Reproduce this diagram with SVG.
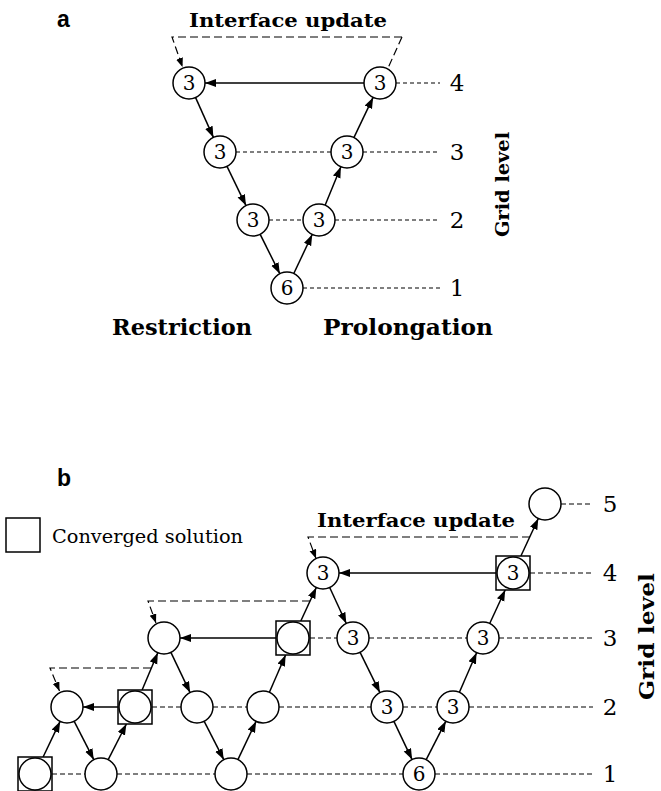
<svg xmlns="http://www.w3.org/2000/svg" width="661" height="791" viewBox="0 0 661 791">
<defs>
<marker id="ah" markerUnits="userSpaceOnUse" markerWidth="12" markerHeight="9" refX="11" refY="4" orient="auto"><path d="M0,0 L11,4 L0,8 z" fill="#000"/></marker>
<marker id="ahs" markerUnits="userSpaceOnUse" markerWidth="10" markerHeight="8" refX="9" refY="3.5" orient="auto"><path d="M0,0 L9,3.5 L0,7 z" fill="#000"/></marker>
</defs>
<style>
.n{fill:#fff;stroke:#000;stroke-width:1.5}
.sq{fill:#fff;stroke:#000;stroke-width:1.5}
.d{font-family:"DejaVu Serif","Liberation Serif",serif;font-size:20px;text-anchor:middle}
.lv{font-family:"DejaVu Serif","Liberation Serif",serif;font-size:23px;text-anchor:middle}
.hd{font-family:"DejaVu Serif","Liberation Serif",serif;font-weight:bold}
.ab{font-family:"Liberation Sans",Arial,sans-serif;font-weight:bold;font-size:23px}
.a{stroke:#000;stroke-width:1.5;fill:none;marker-end:url(#ah)}
.lvl{stroke:#000;stroke-width:1.2;stroke-dasharray:4 3;fill:none}
.lvlb{stroke:#000;stroke-width:1.2;stroke-dasharray:5 3;fill:none}
.iu{stroke:#000;stroke-width:1.2;stroke-dasharray:8 4;fill:none}
</style>

<!-- ===== Panel a ===== -->
<text class="ab" x="57" y="27">a</text>
<text class="hd" x="189" y="27" font-size="18" textLength="198" lengthAdjust="spacingAndGlyphs">Interface update</text>
<text class="hd" x="112" y="335" font-size="22" textLength="140" lengthAdjust="spacingAndGlyphs">Restriction</text>
<text class="hd" x="323" y="335" font-size="22" textLength="170" lengthAdjust="spacingAndGlyphs">Prolongation</text>
<text class="hd" transform="translate(509,237) rotate(-90)" font-size="18" textLength="105" lengthAdjust="spacingAndGlyphs">Grid level</text>

<g id="a-levels">
<path class="lvl" d="M396,83 H440"/>
<path class="lvl" d="M236,152 H331 M363,152 H440"/>
<path class="lvl" d="M269,220 H303 M335,220 H440"/>
<path class="lvl" d="M303,288 H440"/>
<text class="lv" x="457" y="91">4</text>
<text class="lv" x="457" y="160">3</text>
<text class="lv" x="457" y="228">2</text>
<text class="lv" x="457" y="296">1</text>
</g>

<g id="a-connectors">
<path class="iu" d="M402,37 H172 L182.5,67" marker-end="url(#ahs)"/>
<path class="iu" d="M402,37 L388,68"/>
<line class="a" x1="195.6" y1="97.6" x2="213.4" y2="137.4"/>
<line class="a" x1="227" y1="166.4" x2="246" y2="205.6"/>
<line class="a" x1="260.2" y1="234.3" x2="279.8" y2="273.7"/>
<line class="a" x1="293.8" y1="273.5" x2="312.2" y2="234.5"/>
<line class="a" x1="325.1" y1="205.2" x2="340.9" y2="166.8"/>
<line class="a" x1="353.9" y1="137.6" x2="373.1" y2="97.4"/>
<line class="a" x1="364" y1="83" x2="205" y2="83"/>
</g>

<g id="a-n1"><circle class="n" cx="189" cy="83" r="16"/><text class="d" x="189" y="90">3</text></g>
<g id="a-n2"><circle class="n" cx="220" cy="152" r="16"/><text class="d" x="220" y="159">3</text></g>
<g id="a-n3"><circle class="n" cx="253" cy="220" r="16"/><text class="d" x="253" y="227">3</text></g>
<g id="a-n4"><circle class="n" cx="287" cy="288" r="16"/><text class="d" x="287" y="295">6</text></g>
<g id="a-n5"><circle class="n" cx="319" cy="220" r="16"/><text class="d" x="319" y="227">3</text></g>
<g id="a-n6"><circle class="n" cx="347" cy="152" r="16"/><text class="d" x="347" y="159">3</text></g>
<g id="a-n7"><circle class="n" cx="380" cy="83" r="16"/><text class="d" x="380" y="90">3</text></g>

<!-- ===== Panel b ===== -->
<text class="ab" x="57" y="486">b</text>
<g id="legend">
<rect class="sq" x="6" y="518" width="34" height="34"/>
<text font-family="DejaVu Serif, Liberation Serif, serif" font-size="18" x="52" y="543" textLength="191" lengthAdjust="spacingAndGlyphs">Converged solution</text>
</g>
<text class="hd" x="317" y="527" font-size="18" textLength="198" lengthAdjust="spacingAndGlyphs">Interface update</text>
<text class="hd" transform="translate(654,700) rotate(-90)" font-size="21" textLength="127" lengthAdjust="spacingAndGlyphs">Grid level</text>

<g id="b-levels">
<path class="lvlb" d="M561,504 H593"/>
<path class="lvlb" d="M530,573 H593"/>
<path class="lvlb" d="M310,638 H337 M369,638 H467 M499,638 H593"/>
<path class="lvlb" d="M152,707 H181 M213,707 H247 M279,707 H371 M403,707 H437 M469,707 H593"/>
<path class="lvlb" d="M52,774 H85 M117,774 H215 M247,774 H403 M435,774 H593"/>
<text class="lv" x="610" y="512">5</text>
<text class="lv" x="610" y="581">4</text>
<text class="lv" x="610" y="646">3</text>
<text class="lv" x="610" y="715">2</text>
<text class="lv" x="610" y="782">1</text>
</g>

<g id="b-connectors">
<path class="iu" d="M151,668 H50 L59.5,691" marker-end="url(#ahs)"/>
<path class="iu" d="M310,601 H148 L156,623" marker-end="url(#ahs)"/>
<path class="iu" d="M530,537 H308 L316,558.5" marker-end="url(#ahs)"/>
<line class="a" x1="43.1" y1="757" x2="60.1" y2="721.4"/>
<line class="a" x1="74.2" y1="721.3" x2="93.8" y2="759.7"/>
<line class="a" x1="108.2" y1="759.7" x2="126.4" y2="724"/>
<line class="a" x1="118" y1="707" x2="83" y2="707"/>
<line class="a" x1="142.1" y1="690" x2="157.8" y2="652.8"/>
<line class="a" x1="170.9" y1="652.4" x2="190.1" y2="692.6"/>
<line class="a" x1="204.2" y1="721.3" x2="223.8" y2="759.7"/>
<line class="a" x1="237.9" y1="759.6" x2="256.1" y2="721.4"/>
<line class="a" x1="269.4" y1="692.3" x2="285.6" y2="655"/>
<line class="a" x1="276" y1="638" x2="180" y2="638"/>
<line class="a" x1="300.8" y1="621" x2="316.3" y2="587.5"/>
<line class="a" x1="329.7" y1="587.5" x2="346.3" y2="623.5"/>
<line class="a" x1="360.1" y1="652.4" x2="379.9" y2="692.6"/>
<line class="a" x1="393.9" y1="721.4" x2="412.1" y2="759.6"/>
<line class="a" x1="426.2" y1="759.7" x2="445.8" y2="721.3"/>
<line class="a" x1="459.4" y1="692.3" x2="476.6" y2="652.7"/>
<line class="a" x1="489.7" y1="623.5" x2="505.2" y2="590"/>
<line class="a" x1="496" y1="573" x2="339" y2="573"/>
<line class="a" x1="520.9" y1="556" x2="538.3" y2="518.5"/>
</g>

<g id="b-n1"><rect class="sq" x="18" y="757" width="34" height="34"/><circle class="n" cx="35" cy="774" r="16"/></g>
<g id="b-n2"><circle class="n" cx="67" cy="707" r="16"/></g>
<g id="b-n3"><circle class="n" cx="101" cy="774" r="16"/></g>
<g id="b-n4"><rect class="sq" x="118" y="690" width="34" height="34"/><circle class="n" cx="135" cy="707" r="16"/></g>
<g id="b-n5"><circle class="n" cx="164" cy="638" r="16"/></g>
<g id="b-n6"><circle class="n" cx="197" cy="707" r="16"/></g>
<g id="b-n7"><circle class="n" cx="231" cy="774" r="16"/></g>
<g id="b-n8"><circle class="n" cx="263" cy="707" r="16"/></g>
<g id="b-n9"><rect class="sq" x="276" y="621" width="34" height="34"/><circle class="n" cx="293" cy="638" r="16"/></g>
<g id="b-n10"><circle class="n" cx="323" cy="573" r="16"/><text class="d" x="323" y="580">3</text></g>
<g id="b-n11"><circle class="n" cx="353" cy="638" r="16"/><text class="d" x="353" y="645">3</text></g>
<g id="b-n12"><circle class="n" cx="387" cy="707" r="16"/><text class="d" x="387" y="714">3</text></g>
<g id="b-n13"><circle class="n" cx="419" cy="774" r="16"/><text class="d" x="419" y="781">6</text></g>
<g id="b-n14"><circle class="n" cx="453" cy="707" r="16"/><text class="d" x="453" y="714">3</text></g>
<g id="b-n15"><circle class="n" cx="483" cy="638" r="16"/><text class="d" x="483" y="645">3</text></g>
<g id="b-n16"><rect class="sq" x="496" y="556" width="34" height="34"/><circle class="n" cx="513" cy="573" r="16"/><text class="d" x="513" y="580">3</text></g>
<g id="b-n17"><circle class="n" cx="545" cy="504" r="16"/></g>
</svg>
